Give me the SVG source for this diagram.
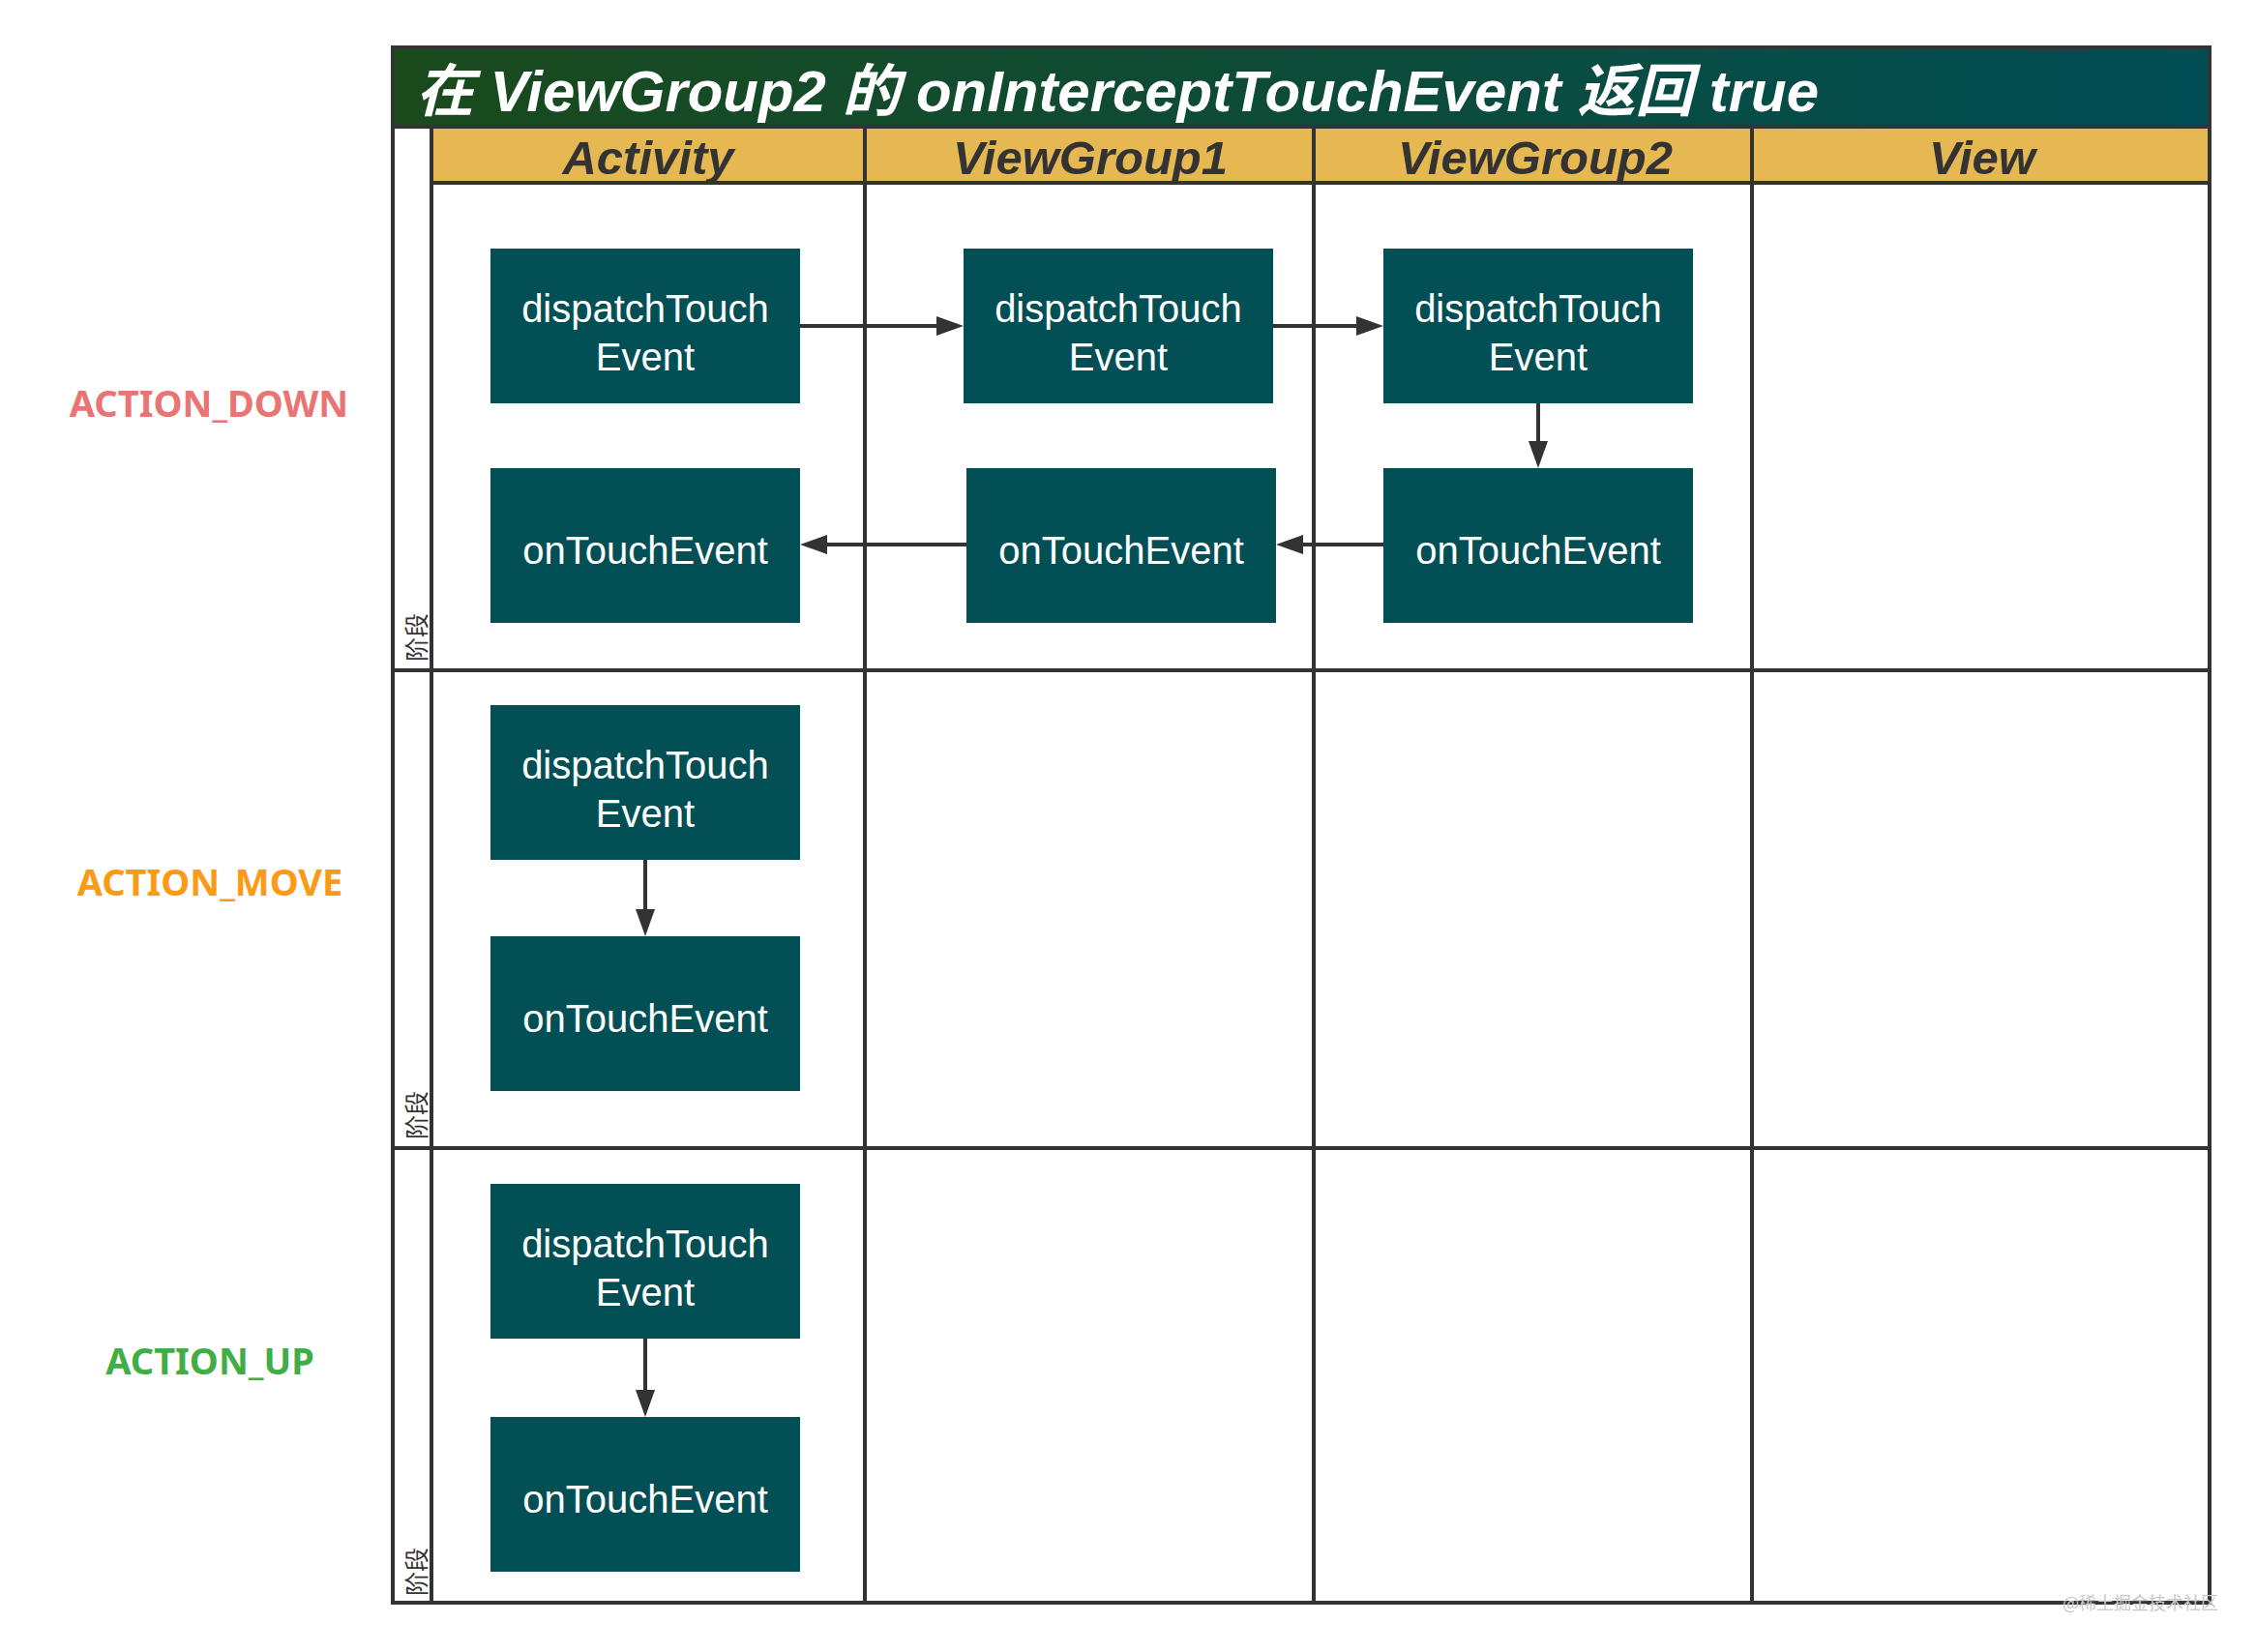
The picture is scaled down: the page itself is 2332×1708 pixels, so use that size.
<svg xmlns="http://www.w3.org/2000/svg" width="2332" height="1708" viewBox="0 0 2332 1708">
<style>
.grid{stroke:#333333;stroke-width:4;fill:none}
.node{fill:#024F55}
.nt{font-family:"Liberation Sans",Arial,sans-serif;font-size:40px;fill:#ffffff;text-anchor:middle}
.hdr{font-family:"Liberation Sans",Arial,sans-serif;font-size:49px;font-weight:bold;font-style:italic;fill:#333333;text-anchor:middle}
.lane{font-family:"Noto Sans CJK SC","Noto Sans",sans-serif;font-size:25px;fill:#333333}
.act{font-family:"Noto Sans","Open Sans",sans-serif;font-size:38px;font-weight:bold;text-anchor:middle}
.conn{stroke:#333333;stroke-width:4;fill:none}
</style>
<defs>
<linearGradient id="tg" x1="0" y1="0" x2="1" y2="0">
<stop offset="0" stop-color="#1a4a1c"/>
<stop offset="1" stop-color="#004d55"/>
</linearGradient>
<marker id="ah" viewBox="0 0 28 20" refX="8" refY="10" markerWidth="28" markerHeight="20" markerUnits="userSpaceOnUse" orient="auto">
<path d="M0,0 L28,10 L0,20 Z" fill="#333333"/>
</marker>
</defs>
<rect width="2332" height="1708" fill="#ffffff"/>

<g id="swimlane">
<rect x="406" y="49" width="1878" height="82" fill="url(#tg)"/>
<rect x="446" y="131" width="1838" height="58" fill="#E5B852"/>
<rect class="grid" x="406" y="49" width="1878" height="1608"/>
<line class="grid" x1="406" y1="131" x2="2284" y2="131"/>
<line class="grid" x1="446" y1="189" x2="2284" y2="189"/>
<line class="grid" x1="446" y1="131" x2="446" y2="1657"/>
<line class="grid" x1="894" y1="131" x2="894" y2="1657"/>
<line class="grid" x1="1358" y1="131" x2="1358" y2="1657"/>
<line class="grid" x1="1811" y1="131" x2="1811" y2="1657"/>
<line class="grid" x1="406" y1="693" x2="2284" y2="693"/>
<line class="grid" x1="406" y1="1187" x2="2284" y2="1187"/>
<text x="430" y="115" font-family="Liberation Sans,'Noto Sans CJK SC',sans-serif" font-size="59" font-weight="bold" font-style="italic" fill="#ffffff" textLength="1450" lengthAdjust="spacingAndGlyphs">在 ViewGroup2 的 onInterceptTouchEvent 返回 true</text>
<text class="hdr" x="670" y="180">Activity</text>
<text class="hdr" x="1127" y="180">ViewGroup1</text>
<text class="hdr" x="1587" y="180">ViewGroup2</text>
<text class="hdr" x="2049" y="180">View</text>
<text class="lane" transform="translate(440,684) rotate(-90)">阶段</text>
<text class="lane" transform="translate(440,1178) rotate(-90)">阶段</text>
<text class="lane" transform="translate(440,1650) rotate(-90)">阶段</text>
</g>

<g id="labels">
<text class="act" x="216" y="431" fill="#E97473">ACTION_DOWN</text>
<text class="act" x="217" y="926" fill="#FB9A14">ACTION_MOVE</text>
<text class="act" x="217" y="1421" fill="#41AD45">ACTION_UP</text>
</g>

<g id="n_act_down_dispatch"><rect class="node" x="507" y="257" width="320" height="160"/><text class="nt" x="667" y="333">dispatchTouch</text><text class="nt" x="667" y="383">Event</text></g>
<g id="n_vg1_down_dispatch"><rect class="node" x="996" y="257" width="320" height="160"/><text class="nt" x="1156" y="333">dispatchTouch</text><text class="nt" x="1156" y="383">Event</text></g>
<g id="n_vg2_down_dispatch"><rect class="node" x="1430" y="257" width="320" height="160"/><text class="nt" x="1590" y="333">dispatchTouch</text><text class="nt" x="1590" y="383">Event</text></g>
<g id="n_act_down_touch"><rect class="node" x="507" y="484" width="320" height="160"/><text class="nt" x="667" y="583">onTouchEvent</text></g>
<g id="n_vg1_down_touch"><rect class="node" x="999" y="484" width="320" height="160"/><text class="nt" x="1159" y="583">onTouchEvent</text></g>
<g id="n_vg2_down_touch"><rect class="node" x="1430" y="484" width="320" height="160"/><text class="nt" x="1590" y="583">onTouchEvent</text></g>
<g id="n_act_move_dispatch"><rect class="node" x="507" y="729" width="320" height="160"/><text class="nt" x="667" y="805">dispatchTouch</text><text class="nt" x="667" y="855">Event</text></g>
<g id="n_act_move_touch"><rect class="node" x="507" y="968" width="320" height="160"/><text class="nt" x="667" y="1067">onTouchEvent</text></g>
<g id="n_act_up_dispatch"><rect class="node" x="507" y="1224" width="320" height="160"/><text class="nt" x="667" y="1300">dispatchTouch</text><text class="nt" x="667" y="1350">Event</text></g>
<g id="n_act_up_touch"><rect class="node" x="507" y="1465" width="320" height="160"/><text class="nt" x="667" y="1564">onTouchEvent</text></g>

<g id="connectors">
<line class="conn" x1="827" y1="337" x2="976" y2="337" marker-end="url(#ah)"/>
<line class="conn" x1="1316" y1="337" x2="1410" y2="337" marker-end="url(#ah)"/>
<line class="conn" x1="1590" y1="417" x2="1590" y2="464" marker-end="url(#ah)"/>
<line class="conn" x1="1430" y1="563" x2="1339" y2="563" marker-end="url(#ah)"/>
<line class="conn" x1="999" y1="563" x2="847" y2="563" marker-end="url(#ah)"/>
<line class="conn" x1="667" y1="889" x2="667" y2="948" marker-end="url(#ah)"/>
<line class="conn" x1="667" y1="1384" x2="667" y2="1445" marker-end="url(#ah)"/>
</g>

<text x="2132" y="1664" font-family="'Noto Sans CJK SC',sans-serif" font-size="18" fill="#c8c8c8">@稀土掘金技术社区</text>
</svg>
